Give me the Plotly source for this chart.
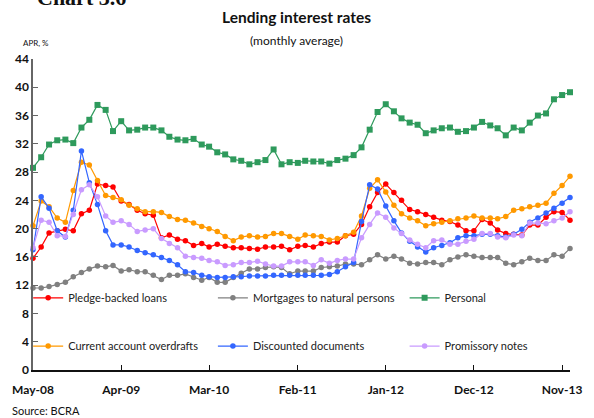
import pandas as pd
import plotly.graph_objects as go

# Monthly observations, May 2008 - Dec 2013
months = pd.date_range("2008-05-01", "2013-12-01", freq="MS")

pledge_backed = [15.8, 17.4, 19.4, 19.7, 19.9, 19.7, 22.1, 22.6, 26.3, 26.1, 25.9, 23.9,
                 23.4, 22.6, 22.1, 21.9, 18.7, 19.1, 18.5, 18.3, 17.6, 17.9, 17.4, 17.8,
                 17.5, 17.3, 17.3, 17.2, 17.1, 17.4, 17.4, 17.5, 17.0, 17.5, 17.6, 17.4,
                 17.9, 18.1, 18.1, 19.0, 19.2, 20.6, 23.1, 25.1, 26.3, 25.1, 24.0, 22.7,
                 22.4, 22.0, 21.6, 21.2, 21.0, 20.5, 19.7, 19.7, 21.3, 20.8, 19.8, 19.3,
                 19.2, 19.1, 20.5, 20.5, 21.6, 22.4, 22.3, 21.2]

mortgages = [11.6, 11.6, 11.8, 12.1, 12.4, 13.2, 13.8, 14.3, 14.7, 14.6, 14.8, 14.0,
             14.2, 13.9, 13.9, 13.4, 12.8, 13.4, 13.4, 13.6, 13.1, 12.7, 13.1, 12.4,
             12.4, 13.1, 13.7, 14.3, 14.3, 14.5, 14.6, 14.5, 13.6, 14.0, 14.0, 14.0,
             14.5, 14.6, 14.7, 15.0, 15.0, 14.9, 15.6, 16.3, 15.7, 16.1, 15.7, 15.1,
             15.0, 15.2, 15.2, 14.9, 15.6, 16.0, 16.3, 16.1, 15.9, 15.9, 15.9, 15.1,
             14.9, 15.3, 15.8, 15.5, 15.5, 16.3, 16.1, 17.2]

personal = [28.6, 30.1, 31.9, 32.5, 32.6, 32.1, 34.3, 35.4, 37.5, 36.8, 33.8, 35.2,
            33.9, 34.0, 34.3, 34.3, 33.9, 33.0, 32.6, 32.5, 32.7, 31.9, 31.6, 30.8,
            30.5, 29.8, 29.6, 29.1, 29.4, 29.7, 31.2, 29.1, 29.4, 29.3, 29.6, 29.5,
            29.5, 29.2, 29.7, 29.9, 30.4, 31.5, 34.0, 36.5, 37.6, 36.6, 35.6, 35.0,
            34.7, 33.5, 33.9, 34.2, 34.3, 33.7, 33.8, 34.3, 35.1, 34.6, 34.2, 33.2,
            34.3, 33.9, 35.0, 36.0, 36.3, 38.3, 38.9, 39.3]

overdrafts = [20.4, 23.9, 23.1, 21.5, 20.9, 25.4, 29.4, 29.0, 26.8, 24.7, 24.4, 24.1,
              23.3, 22.8, 22.4, 22.4, 22.3, 21.7, 21.3, 21.2, 20.8, 20.3, 20.0, 19.6,
              18.9, 18.3, 18.8, 19.0, 18.8, 18.9, 19.3, 19.3, 18.9, 18.5, 19.1, 19.0,
              18.9, 18.4, 18.6, 19.0, 19.5, 21.8, 25.7, 26.9, 25.2, 23.3, 22.1, 21.5,
              21.1, 20.4, 20.7, 20.9, 21.1, 21.4, 21.5, 21.8, 21.5, 21.5, 21.4, 21.7,
              22.6, 22.8, 23.1, 23.3, 23.6, 25.0, 26.1, 27.4]

discounted = [17.0, 24.5, 22.9, 19.7, 18.8, 22.6, 31.0, 26.5, 23.4, 19.7, 17.7, 17.7,
              17.4, 16.9, 16.6, 16.3, 15.9, 15.5, 14.9, 13.9, 13.8, 13.4, 13.2, 13.1,
              13.1, 13.2, 13.2, 13.3, 13.3, 13.3, 13.4, 13.4, 13.4, 13.4, 13.4, 13.4,
              13.4, 13.5, 13.9, 14.6, 15.2, 21.0, 26.2, 25.6, 23.2, 21.1, 19.4, 18.2,
              17.4, 16.7, 17.3, 17.6, 18.0, 18.7, 19.0, 19.0, 19.2, 19.2, 19.0, 18.8,
              19.2, 19.9, 20.9, 21.5, 22.2, 22.9, 23.6, 24.4]

promissory = [17.3, 21.2, 20.9, 19.0, 18.9, 22.0, 25.5, 26.2, 24.5, 21.8, 20.9, 21.1,
              20.6, 19.6, 19.8, 20.0, 18.6, 17.9, 17.3, 16.1, 15.9, 15.8, 15.5, 15.3,
              14.8, 14.9, 15.2, 15.2, 15.4, 15.0, 14.7, 14.7, 15.3, 15.3, 15.3, 14.8,
              15.6, 15.1, 15.5, 15.7, 15.7, 18.7, 20.6, 22.2, 21.6, 20.1, 19.3, 18.4,
              17.8, 17.3, 18.3, 18.4, 17.8, 17.8, 18.2, 18.5, 19.3, 19.3, 18.8, 18.7,
              19.1, 19.0, 20.8, 20.8, 20.7, 21.1, 21.5, 22.4]

series_names = ["Pledge-backed loans", "Mortgages to natural persons", "Personal",
                "Current account overdrafts", "Discounted documents", "Promissory notes"]
series_values = [pledge_backed, mortgages, personal, overdrafts, discounted, promissory]
series_colors = ["#FF0000", "#808080", "#2E9A5C", "#FF9900", "#3366FF", "#C99BFF"]
series_symbols = ["circle", "circle", "square", "circle", "circle", "circle"]

tick_dates = ["2008-05-01", "2009-04-01", "2010-03-01", "2011-02-01",
              "2012-01-01", "2012-12-01", "2013-11-01"]
tick_labels = ["May-08", "Apr-09", "Mar-10", "Feb-11", "Jan-12", "Dec-12", "Nov-13"]
y_ticks = list(range(0, 45, 4))

FONT = "Lato, 'Open Sans', sans-serif"

# legend grid: three columns, two rows inside the plot area (paper coords)
legend_cols = [-0.009, 0.335, 0.692]
legend_rows = [0.232, 0.077]

fig = go.Figure()
legend_layout = {}
for i, (name, vals, col, sym) in enumerate(zip(series_names, series_values,
                                               series_colors, series_symbols)):
    key = "legend" if i == 0 else f"legend{i + 1}"
    fig.add_trace(go.Scatter(
        x=months, y=vals, name=name, mode="lines+markers",
        line=dict(color=col, width=1.2),
        marker=dict(color=col, size=6 if sym == "square" else 5.5, symbol=sym),
        legend=key,
        cliponaxis=False,
    ))
    legend_layout[key] = dict(
        x=legend_cols[i % 3], y=legend_rows[i // 3],
        xanchor="left", yanchor="middle", itemwidth=30,
        bgcolor="rgba(0,0,0,0)",
        font=dict(family=FONT, size=11, color="#222"),
    )

fig.update_layout(
    width=594, height=418,
    margin=dict(l=31, r=13, t=59, b=48),
    paper_bgcolor="white", plot_bgcolor="white",
    font=dict(family=FONT, color="#111"),
    showlegend=True,
    xaxis=dict(
        type="date",
        range=[months[0], months[-1]],
        tickvals=tick_dates, ticktext=tick_labels,
        ticks="inside", ticklen=5, tickcolor="#111", tickwidth=1,
        showline=True, linecolor="#111", linewidth=1.5,
        showgrid=False, zeroline=False,
        tickfont=dict(family=FONT, size=12, color="#111", weight="bold"),
        ticklabelstandoff=8,
    ),
    yaxis=dict(
        range=[0, 44], tickvals=y_ticks,
        ticks="inside", ticklen=5, tickcolor="#666", tickwidth=1,
        showline=True, linecolor="#666", linewidth=1.5,
        showgrid=False, zeroline=False,
        tickfont=dict(family=FONT, size=12, color="#111", weight="bold"),
    ),
    **legend_layout,
)

fig.add_annotation(text="<b>Lending interest rates</b>", x=0.49, y=1.0, xref="paper",
                   yref="paper", yanchor="middle", yshift=42, showarrow=False,
                   font=dict(family=FONT, size=15.5, color="#111"))
fig.add_annotation(text="(monthly average)", x=0.49, y=1.0, xref="paper",
                   yref="paper", yanchor="middle", yshift=19, showarrow=False,
                   font=dict(family=FONT, size=12, color="#111"))
fig.add_annotation(text="APR, %", x=0, y=1.0, xref="paper", yref="paper",
                   xanchor="center", yanchor="middle", xshift=3, yshift=16,
                   showarrow=False, font=dict(family=FONT, size=8, color="#111"))
fig.add_annotation(text="Source: BCRA", x=0, y=0, xref="paper", yref="paper",
                   xanchor="left", yanchor="middle", xshift=-23, yshift=-40,
                   showarrow=False, font=dict(family=FONT, size=11, color="#111"))
fig.add_annotation(text="<b>Chart 3.6</b>", x=0, y=1.0, xref="paper", yref="paper",
                   xanchor="left", yanchor="middle", xshift=2, yshift=62,
                   showarrow=False, font=dict(family="'Liberation Serif', serif",
                                              size=22, color="#111"))

fig.write_html("out.html")
